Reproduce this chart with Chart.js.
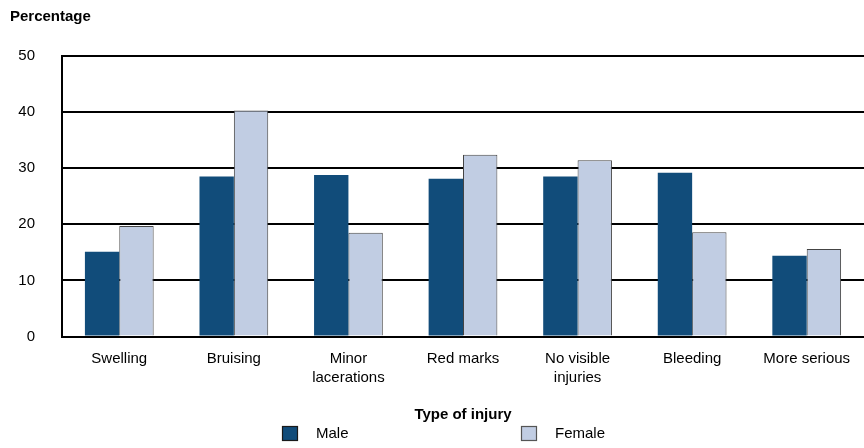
<!DOCTYPE html>
<html>
<head>
<meta charset="utf-8">
<script src="https://cdn.jsdelivr.net/npm/chart.js@4.4.0/dist/chart.umd.min.js"></script>
<style>
  html, body { margin: 0; padding: 0; background: #fff; }
  #wrap { width: 864px; height: 448px; }
</style>
</head>
<body>
<div id="wrap"><canvas id="injuryChart"></canvas></div>
<script>
const categories = ['Swelling', 'Bruising', ['Minor', 'lacerations'], 'Red marks', ['No visible', 'injuries'], 'Bleeding', 'More serious'];
const maleValues = [15.1, 28.5, 28.8, 28.1, 28.5, 29.2, 14.4];
const femaleValues = [19.7, 40.3, 18.5, 32.4, 31.4, 18.6, 15.6];
const yTicks = [0, 10, 20, 30, 40, 50];

const FONT = '"Liberation Sans", Arial, sans-serif';

// legend drawn underneath the axis title, spaced like the original
const bottomLegend = {
    id: 'bottomLegend',
    afterDraw(chart) {
        const ctx = chart.ctx;
        const spots = [282, 521];
        ctx.save();
        chart.data.datasets.forEach(function(ds, i) {
            const x = spots[i];
            const y = 426;
            ctx.fillStyle = ds.backgroundColor;
            ctx.fillRect(x, y, 16, 15);
            ctx.strokeStyle = ds.legendBorder;
            ctx.lineWidth = 1.2;
            ctx.strokeRect(x + 0.5, y + 0.5, 15, 14);
            ctx.fillStyle = '#000';
            ctx.font = '15px ' + FONT;
            ctx.textBaseline = 'middle';
            ctx.fillText(ds.label, x + 34, y + 8);
        });
        ctx.restore();
    }
};

document.addEventListener('DOMContentLoaded', function() {
    const ctx = document.getElementById('injuryChart').getContext('2d');
    new Chart(ctx, {
        type: 'bar',
        data: {
            labels: categories,
            datasets: [{
                label: 'Male',
                data: maleValues,
                backgroundColor: '#114c7a',
                borderWidth: 0,
                legendBorder: '#1a1a1a'
            }, {
                label: 'Female',
                data: femaleValues,
                backgroundColor: '#c1cde3',
                borderColor: '#444',
                borderWidth: 1,
                legendBorder: '#555'
            }]
        },
        options: {
            responsive: true,
            maintainAspectRatio: false,
            animation: false,
            layout: { padding: { left: 10, right: 0, top: 0, bottom: 24 } },
            datasets: { bar: { categoryPercentage: 0.6, barPercentage: 1.0 } },
            scales: {
                x: {
                    grid: { display: false, drawTicks: false },
                    border: { color: '#000', width: 2 },
                    ticks: {
                        color: '#000',
                        padding: 13,
                        maxRotation: 0,
                        autoSkip: false,
                        font: { family: FONT, size: 15, lineHeight: 1.25 }
                    },
                    title: {
                        display: true,
                        text: 'Type of injury',
                        color: '#000',
                        padding: { top: 6, bottom: 0 },
                        font: { family: FONT, size: 15, weight: 'bold', lineHeight: 1.2 }
                    }
                },
                y: {
                    min: 0,
                    max: 50,
                    afterBuildTicks: function(scale) {
                        scale.ticks = yTicks.map(v => ({ value: v }));
                    },
                    afterFit: function(scale) {
                        scale.width = 52;
                    },
                    grid: { color: '#000', lineWidth: 2, drawTicks: false },
                    border: { color: '#000', width: 2 },
                    ticks: {
                        color: '#000',
                        padding: 27,
                        font: { family: FONT, size: 15 }
                    }
                }
            },
            plugins: {
                legend: { display: false },
                tooltip: { enabled: false },
                title: {
                    display: true,
                    text: 'Percentage',
                    align: 'start',
                    color: '#000',
                    padding: { top: 8, bottom: 30 },
                    font: { family: FONT, size: 15, weight: 'bold', lineHeight: 1.2 }
                }
            }
        },
        plugins: [bottomLegend]
    });
});
</script>
</body>
</html>
